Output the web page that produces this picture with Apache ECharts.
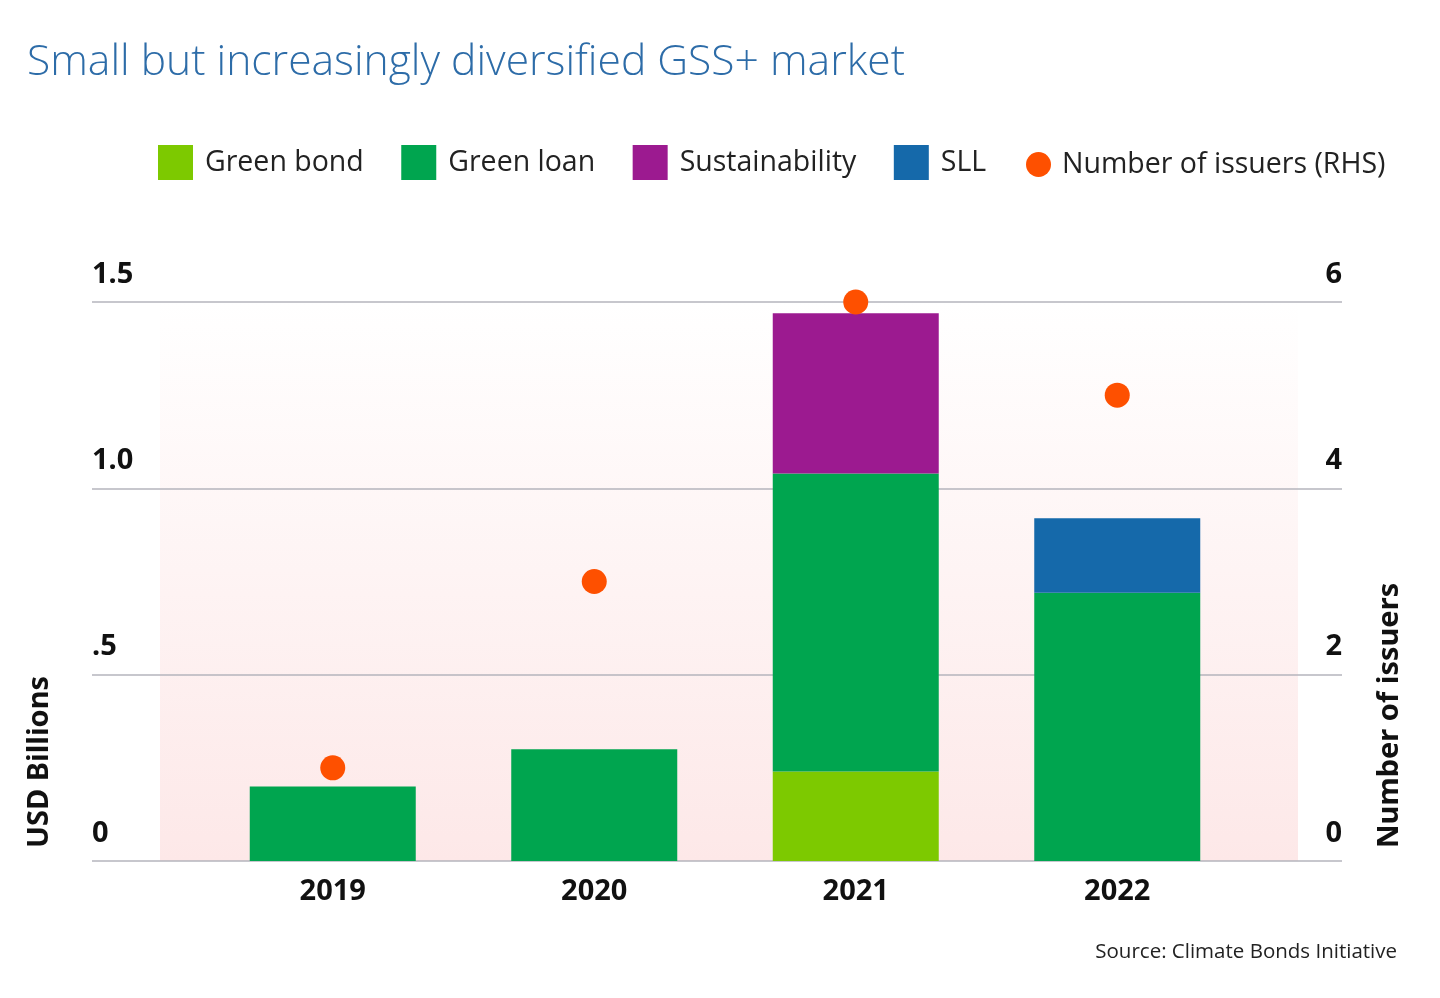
<!DOCTYPE html>
<html>
<head>
<meta charset="utf-8">
<script src="https://cdn.jsdelivr.net/npm/echarts@6/dist/echarts.min.js"></script>
<style>
html,body{margin:0;padding:0;background:#fff;}
#chart{width:1440px;height:998px;}
</style>
</head>
<body>
<div id="chart"></div>
<script>
const categories = ['2019', '2020', '2021', '2022'];
const greenBond = [0, 0, 0.24, 0];
const greenLoan = [0.2, 0.3, 0.8, 0.72];
const sustainability = [0, 0, 0.43, 0];
const sll = [0, 0, 0, 0.2];
const issuers = [1, 3, 6, 5];
const leftTickLabels = ['0', '.5', '1.0', '1.5'];
const rightTickLabels = ['0', '2', '4', '6'];

const chart = echarts.init(document.getElementById('chart'));
const labelFont = 'Noto Sans';
const gridTop = 302, gridBottom = 137;

chart.setOption({
  animation: false,
  backgroundColor: '#fff',
  title: [
    { text: 'Small but increasingly diversified GSS+ market', left: 22, top: 36,
      textStyle: { fontFamily: 'Open Sans', fontWeight: 300, fontSize: 42.6, color: '#2d6ca8' } },
    { text: 'Source: Climate Bonds Initiative', right: 38, top: 937,
      textStyle: { fontFamily: 'Open Sans', fontWeight: 'normal', fontSize: 20.5, color: '#222' } }
  ],
  legend: [
    { data: ['Green bond', 'Green loan', 'Sustainability', 'SLL'], left: 158, top: 145, padding: 0,
      icon: 'rect', itemWidth: 35, itemHeight: 35, itemGap: 37.5,
      textStyle: { fontFamily: 'Open Sans', fontSize: 28.5, color: '#222', padding: [4, 0, 0, 7] } },
    { data: ['Number of issuers (RHS)'], left: 1026, top: 150, padding: 0,
      icon: 'circle', itemWidth: 25, itemHeight: 25,
      textStyle: { fontFamily: 'Open Sans', fontSize: 28.5, color: '#222', padding: [4, 0, 0, 6] } }
  ],
  grid: [
    { left: 160, right: 142, top: gridTop, bottom: gridBottom, show: true, borderWidth: 0,
      backgroundColor: { type: 'linear', x: 0, y: 0, x2: 0, y2: 1,
        colorStops: [{ offset: 0, color: '#ffffff' }, { offset: 1, color: '#fde8e8' }] } },
    { left: 92, right: 98, top: gridTop, bottom: gridBottom },
    { left: 202, right: 192, top: gridTop, bottom: gridBottom }
  ],
  xAxis: [
    { gridIndex: 0, type: 'category', data: categories, show: false },
    { gridIndex: 1, type: 'category', data: categories, show: false },
    { gridIndex: 2, type: 'category', data: categories,
      axisLine: { show: false }, axisTick: { show: false },
      axisLabel: { margin: 16, fontFamily: labelFont, fontWeight: 'bold', fontSize: 29, color: '#111' } }
  ],
  yAxis: [
    { gridIndex: 0, type: 'value', min: 0, max: 1.5, show: false },
    { gridIndex: 1, type: 'value', position: 'left', min: 0, max: 1.5, interval: 0.5,
      axisLine: { show: false }, axisTick: { show: false },
      splitLine: { show: true, lineStyle: { color: '#b4b4bc', width: 1.5 } },
      axisLabel: { inside: true, margin: 0, align: 'left', verticalAlign: 'bottom', padding: [0, 0, 13, 0],
        fontFamily: labelFont, fontWeight: 'bold', fontSize: 29, color: '#111',
        formatter: v => leftTickLabels[Math.round(v / 0.5)] } },
    { gridIndex: 1, type: 'value', position: 'right', min: 0, max: 6, interval: 2,
      axisLine: { show: false }, axisTick: { show: false }, splitLine: { show: false },
      axisLabel: { inside: true, margin: 0, align: 'right', verticalAlign: 'bottom', padding: [0, 0, 13, 0],
        fontFamily: labelFont, fontWeight: 'bold', fontSize: 29, color: '#111',
        formatter: v => rightTickLabels[Math.round(v / 2)] } },
    { gridIndex: 2, type: 'value', min: 0, max: 1.5, show: false },
    { gridIndex: 2, type: 'value', min: 0, max: 6, show: false, position: 'right' }
  ],
  graphic: [
    { type: 'text', x: 40, y: 848, rotation: Math.PI / 2,
      style: { text: 'USD Billions', align: 'left', verticalAlign: 'middle',
        font: 'bold 29px "Noto Sans"', fill: '#111' } },
    { type: 'text', x: 1390, y: 848, rotation: Math.PI / 2,
      style: { text: 'Number of issuers', align: 'left', verticalAlign: 'middle',
        font: 'bold 29px "Noto Sans"', fill: '#111' } }
  ],
  series: [
    { name: 'Green bond', type: 'bar', stack: 'total', xAxisIndex: 2, yAxisIndex: 3, barWidth: 166,
      itemStyle: { color: '#7dc900' }, data: greenBond },
    { name: 'Green loan', type: 'bar', stack: 'total', xAxisIndex: 2, yAxisIndex: 3, barWidth: 166,
      itemStyle: { color: '#00a54f' }, data: greenLoan },
    { name: 'Sustainability', type: 'bar', stack: 'total', xAxisIndex: 2, yAxisIndex: 3, barWidth: 166,
      itemStyle: { color: '#9c1a90' }, data: sustainability },
    { name: 'SLL', type: 'bar', stack: 'total', xAxisIndex: 2, yAxisIndex: 3, barWidth: 166,
      itemStyle: { color: '#1569aa' }, data: sll },
    { name: 'Number of issuers (RHS)', type: 'scatter', xAxisIndex: 2, yAxisIndex: 4, symbolSize: 25,
      itemStyle: { color: '#fe5000', opacity: 1 }, data: issuers, z: 5 }
  ]
});
</script>
</body>
</html>
